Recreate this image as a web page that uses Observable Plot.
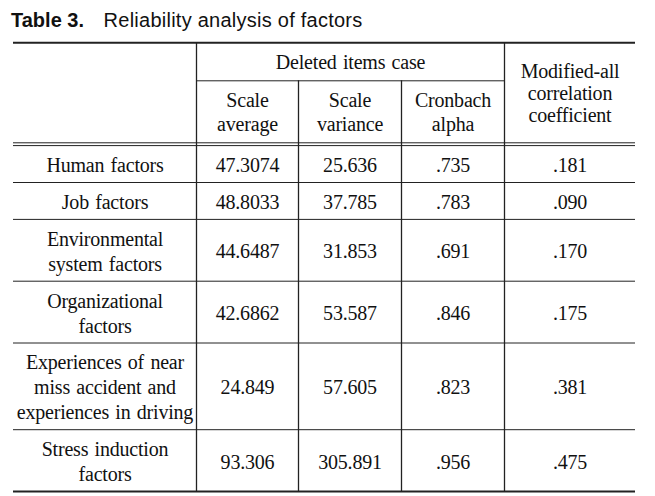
<!DOCTYPE html>
<html>
<head>
<meta charset="utf-8">
<script src="https://cdn.jsdelivr.net/npm/d3@7"></script>
<script src="https://cdn.jsdelivr.net/npm/@observablehq/plot@0.6"></script>
<style>
  html, body { margin: 0; padding: 0; background: #fff; }
  #title {
    box-sizing: border-box; height: 36px; padding: 10px 0 0 11px;
    font: 20px/20px "Liberation Sans", Arial, sans-serif; color: #111; white-space: nowrap;
  }
  #title b { font-weight: bold; }
  #title .rest { margin-left: 14px; letter-spacing: 0.25px; }
  svg { display: block; }
  #chart svg text, #chart svg tspan {
    font-family: "Liberation Serif", "Times New Roman", serif;
    word-spacing: 1.5px;
    letter-spacing: -0.2px;
  }
</style>
</head>
<body>
<div id="title"><b>Table 3.</b> <span class="rest">Reliability analysis of factors</span></div>
<div id="chart"></div>
<script>
// ---------- data ----------
const groupHeader = "Deleted items case";
const columnHeaders = ["Scale\naverage", "Scale\nvariance", "Cronbach\nalpha"];
const lastHeader = "Modified-all\ncorrelation\ncoefficient";
const factors = [
  "Human factors",
  "Job factors",
  "Environmental\nsystem factors",
  "Organizational\nfactors",
  "Experiences of near\nmiss accident and\nexperiences in driving",
  "Stress induction\nfactors"
];
const scaleAverage = [47.3074, 48.8033, 44.6487, 42.6862, 24.849, 93.306];
const scaleVariance = [25.636, 37.785, 31.853, 53.587, 57.605, 305.891];
const cronbachAlpha = [0.735, 0.783, 0.691, 0.846, 0.823, 0.956];
const modifiedCorrelation = [0.181, 0.090, 0.170, 0.175, 0.381, 0.475];

// ---------- layout ----------
const W = 655, titleH = 36, H = 496 - titleH;
const colEdges = [13, 196, 298, 401, 504, 635];
const tableTop = 42.3;
const headPad = 14, headLine = 24;
const bodyPad = 12, bodyLine = 24.9;
const doubleGap = 2.8;
const ink = "#222";

const lines = s => s.split("\n").length;
const colMid = i => (colEdges[i] + colEdges[i + 1]) / 2;
const fmtPlain = v => String(v);
const fmtDot = v => v.toFixed(3).replace(/^0/, "");

// header rows
const h1Top = tableTop;
const h1Bot = h1Top + headPad + headLine * 1;
const h2Bot = h1Bot + headPad + headLine * 2;
const bodyTop = h2Bot + doubleGap;

// body rows from line counts
const rowEdges = [bodyTop];
factors.forEach(f => rowEdges.push(rowEdges[rowEdges.length - 1] + bodyPad + bodyLine * lines(f)));
const tableBot = rowEdges[rowEdges.length - 1];

// cells
const headerCells = [
  {x: (colEdges[1] + colEdges[4]) / 2, y: (h1Top + h1Bot) / 2, text: groupHeader},
  ...columnHeaders.map((t, i) => ({x: colMid(i + 1), y: (h1Bot + h2Bot) / 2, text: t}))
];
const lastHeaderCell = [{x: colMid(4), y: (h1Top + h2Bot) / 2, text: lastHeader}];

const bodyCells = [];
factors.forEach((f, r) => {
  const y = (rowEdges[r] + rowEdges[r + 1]) / 2;
  const vals = [f, fmtPlain(scaleAverage[r]), fmtPlain(scaleVariance[r]),
                fmtDot(cronbachAlpha[r]), fmtDot(modifiedCorrelation[r])];
  vals.forEach((t, c) => bodyCells.push({x: colMid(c), y, text: t}));
});

// rules
const thickH = [
  {y: tableTop, x1: colEdges[0], x2: colEdges[5]},
  {y: tableBot, x1: colEdges[0], x2: colEdges[5]}
];
const thinH = [
  {y: h1Bot, x1: colEdges[1], x2: colEdges[4]},
  {y: h2Bot, x1: colEdges[0], x2: colEdges[5]},
  ...rowEdges.slice(0, -1).map(y => ({y, x1: colEdges[0], x2: colEdges[5]}))
];
const vRules = [
  {x: colEdges[1], y1: tableTop, y2: tableBot},
  {x: colEdges[2], y1: h1Bot, y2: tableBot},
  {x: colEdges[3], y1: h1Bot, y2: tableBot},
  {x: colEdges[4], y1: tableTop, y2: tableBot}
];

const font = "Liberation Serif";

const chart = Plot.plot({
  width: W,
  height: H,
  margin: 0,
  x: {type: "linear", domain: [0, W], range: [0, W], axis: null},
  y: {type: "linear", domain: [titleH, 496], range: [0, H], axis: null},
  style: {background: "#fff", color: "#111"},
  marks: [
    Plot.ruleY(thinH, {y: "y", x1: "x1", x2: "x2", stroke: ink, strokeWidth: 1}),
    Plot.ruleY(thickH, {y: "y", x1: "x1", x2: "x2", stroke: ink, strokeWidth: 2}),
    Plot.ruleX(vRules, {x: "x", y1: "y1", y2: "y2", stroke: ink, strokeWidth: 1.3}),
    Plot.text(headerCells, {x: "x", y: "y", text: "text", fontSize: 20, fontFamily: font, lineHeight: 1.2, fill: "#111"}),
    Plot.text(lastHeaderCell, {x: "x", y: "y", text: "text", fontSize: 20, fontFamily: font, lineHeight: 1.1, fill: "#111"}),
    Plot.text(bodyCells, {x: "x", y: "y", text: "text", fontSize: 20, fontFamily: font, lineHeight: 1.25, fill: "#111"})
  ]
});
document.getElementById("chart").appendChild(chart);
</script>
</body>
</html>
